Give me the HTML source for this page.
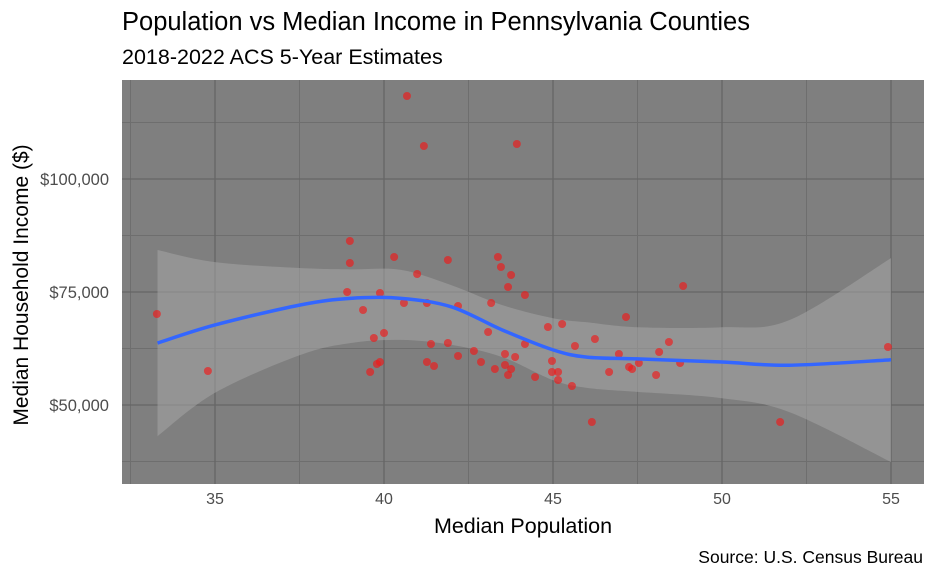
<!DOCTYPE html>
<html><head><meta charset="utf-8"><style>
body{margin:0;background:#fff;font-family:"Liberation Sans",Arial,sans-serif}
svg text{font-family:"Liberation Sans",Arial,sans-serif}
</style></head><body>
<svg id="chart" width="936" height="578">
<text x="122" y="30" font-size="25.5" fill="#000">Population vs Median Income in Pennsylvania Counties</text>
<text x="122" y="64" font-size="21.5" fill="#000">2018-2022 ACS 5-Year Estimates</text>
<rect x="122" y="80" width="802" height="404" fill="#7f7f7f"/>
<g id="grid"></g><g id="band"></g><g id="pts"></g><g id="line"></g><g id="axes"></g>
<text x="28" y="285" font-size="21" fill="#000" transform="rotate(-90 28 285)" text-anchor="middle">Median Household Income ($)</text>
<text x="523" y="533" font-size="21.5" fill="#000" text-anchor="middle">Median Population</text>
<text x="923" y="563" font-size="17.5" fill="#000" text-anchor="end">Source: U.S. Census Bureau</text>
</svg>
<script>
const xs=[38.99,38.99,40.30,41.89,43.37,43.46,43.76,43.67,44.17,40.98,38.91,39.88,40.59,41.27,42.19,43.17,39.38,39.70,40.00,41.39,41.89,43.08,44.85,45.27,44.17,45.65,42.66,42.19,43.58,43.88,42.87,41.27,41.48,39.88,39.79,39.59,43.28,43.58,43.76,43.67,44.47,44.97,44.97,45.15,45.15,45.56,48.85,47.16,46.24,48.43,48.14,46.95,47.54,48.76,47.25,47.34,46.66,48.05,46.15,33.28,34.79,40.68,41.18,43.93,51.72,54.91];
const ys=[86283,81416,82743,82080,82743,80531,78761,76106,74336,78982,75000,74779,72566,72566,71903,72566,71018,64823,65929,63496,63717,66150,67257,67920,63496,63053,61947,60841,61283,60619,59513,59513,58628,59513,59071,57301,57965,58850,57965,56637,56195,59735,57301,57301,55531,54204,76327,69469,64602,63938,61726,61283,59292,59292,58407,57965,57301,56637,46239,70133,57522,118363,107301,107743,46239,62832];
const smoothX=[33.3,35,37.5,39,40.5,42,43.5,45,46,47.5,50,52,55];
const smoothFit=[63700,67700,72100,73600,73600,71700,66600,62200,60600,60200,59500,58800,60000];
const bandUpper=[84300,81600,80300,80000,79900,76500,72100,69200,68300,67200,67200,68800,82500];
const bandLower=[43100,52700,61000,63700,64400,63300,60600,55500,53800,52900,51500,48400,37400];
const xTicks=[35,40,45,50,55];
const yTicks=[50000,75000,100000];
const yTickLabels=["$50,000","$75,000","$100,000"];
const X=v=>384+(v-40)*33.8;
const Y=v=>292-(v-75000)*0.00452;
const NS="http://www.w3.org/2000/svg";
function mk(tag,attrs,parent){const e=document.createElementNS(NS,tag);for(const k in attrs)e.setAttribute(k,attrs[k]);document.getElementById(parent).appendChild(e);return e;}
function curve(P){let s='';for(let i=0;i<P.length-1;i++){const p0=P[i-1]||P[i],p1=P[i],p2=P[i+1],p3=P[i+2]||p2;
 s+='C'+(p1[0]+(p2[0]-p0[0])/6)+','+(p1[1]+(p2[1]-p0[1])/6)+' '+(p2[0]-(p3[0]-p1[0])/6)+','+(p2[1]-(p3[1]-p1[1])/6)+' '+p2[0]+','+p2[1];}return s;}
[32.5,37.5,42.5,47.5,52.5].forEach(v=>{const l=mk('line',{x1:X(v),x2:X(v),y1:80,y2:484,stroke:'#6e6e6e','stroke-width':1},'grid');});
[37500,62500,87500,112500].forEach(v=>{const l=mk('line',{x1:122,x2:924,y1:Y(v),y2:Y(v),stroke:'#6e6e6e','stroke-width':1},'grid');});
xTicks.forEach(v=>{const l=mk('line',{x1:X(v),x2:X(v),y1:80,y2:484,stroke:'#666','stroke-width':1.3},'grid');
 const t=mk('text',{x:X(v),y:504,'font-size':16,fill:'#4d4d4d','text-anchor':'middle'},'axes');t.textContent=v;});
yTicks.forEach((v,i)=>{const l=mk('line',{x1:122,x2:924,y1:Y(v),y2:Y(v),stroke:'#666','stroke-width':1.3},'grid');
 const t=mk('text',{x:109,y:Y(v)+6,'font-size':16.5,fill:'#4d4d4d','text-anchor':'end'},'axes');t.textContent=yTickLabels[i];});
const U=smoothX.map((v,i)=>[X(v),Y(bandUpper[i])]);
const L=smoothX.map((v,i)=>[X(v),Y(bandLower[i])]).reverse();
const d='M'+U[0][0]+','+U[0][1]+curve(U)+'L'+L[0][0]+','+L[0][1]+curve(L)+'Z';
const b=mk('path',{d:d,fill:'#a6a6a6','fill-opacity':0.55},'band');


xs.forEach((v,i)=>{const c=mk('circle',{cx:X(v),cy:Y(ys[i]),r:4,fill:'#f01818','fill-opacity':0.65},'pts');

});
const P=smoothX.map((v,i)=>[X(v),Y(smoothFit[i])]);
const ln=mk('path',{d:'M'+P[0][0]+','+P[0][1]+curve(P),fill:'none',stroke:'#3366ff','stroke-width':3.5},'line');


</script>
</body></html>
